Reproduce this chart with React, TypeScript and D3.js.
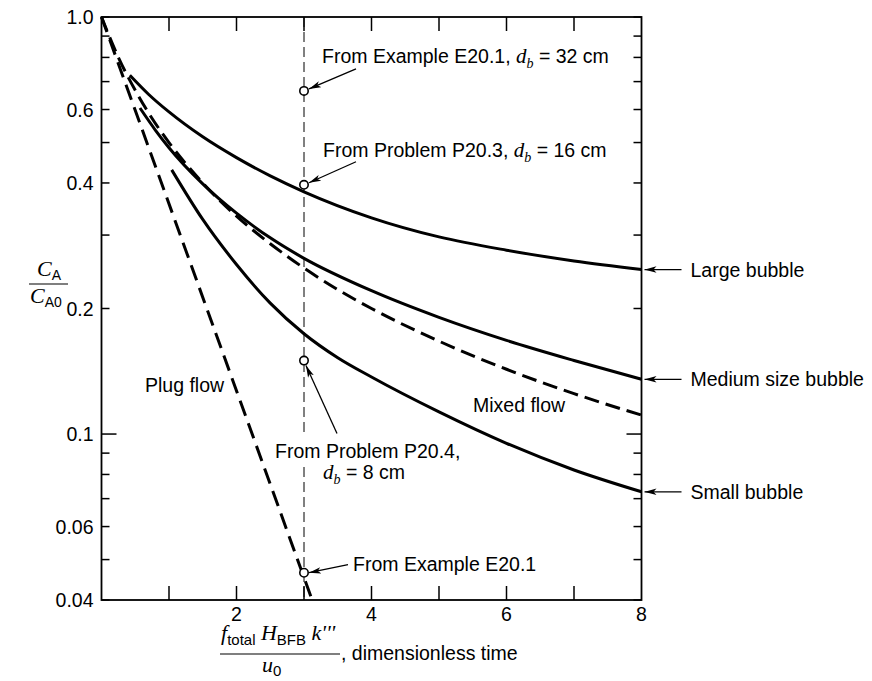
import React from 'react';
import * as d3 from 'd3';

// ---------- data ----------
const xMajorTicks = [1, 2, 3, 4, 5, 6, 7];
const xTickLabels = [2, 4, 6, 8];
const yLabelledTicks = [1.0, 0.6, 0.4, 0.2, 0.1, 0.06, 0.04];
const yMinorTicks = [0.9, 0.8, 0.7, 0.5, 0.3, 0.09, 0.08, 0.07, 0.05];

const plugT = [0, 3.12];
const plugC = [1, 0.04];
const mixedT = [0, 0.25, 0.5, 0.75, 1, 1.5, 2, 2.5, 3, 3.5, 4, 5, 6, 7, 8];
const mixedC = [1, 0.8, 0.667, 0.571, 0.5, 0.4, 0.333, 0.286, 0.25, 0.222, 0.2, 0.167, 0.143, 0.125, 0.111];
const largeT = [0.42, 0.7, 1, 1.5, 2, 2.5, 3, 4, 5, 6, 7, 8];
const largeC = [0.725, 0.652, 0.592, 0.516, 0.46, 0.416, 0.381, 0.33, 0.297, 0.276, 0.26, 0.248];
const mediumT = [0.57, 0.8, 1, 1.5, 2, 2.5, 3, 4, 5, 6, 7, 8];
const mediumC = [0.605, 0.535, 0.486, 0.398, 0.3385, 0.2954, 0.2638, 0.2206, 0.1904, 0.1677, 0.1501, 0.1353];
const smallT = [1.04, 1.5, 2, 2.5, 3, 3.5, 4, 5, 6, 7, 8];
const smallC = [0.43, 0.327, 0.255, 0.206, 0.174, 0.1524, 0.137, 0.113, 0.095, 0.082, 0.0727];

const pointT = 3;
const pointC = [0.665, 0.396, 0.15, 0.0465];

const curveLabels = ['Large bubble', 'Medium size bubble', 'Small bubble'];

// ---------- layout ----------
const W = 872;
const H = 681;
const x = d3.scaleLinear().domain([0, 8]).range([101.5, 641.5]);
const y = d3.scaleLog().domain([0.04, 1]).range([600, 17]);

const SANS = "'Liberation Sans', Arial, sans-serif";
const SERIF = "'Liberation Serif', 'Times New Roman', serif";
const FS = 19.5;

const lineGen = d3
  .line<[number, number]>()
  .x((d) => x(d[0]))
  .y((d) => y(d[1]))
  .curve(d3.curveMonotoneX);

const zip = (a: number[], b: number[]) => a.map((v, i) => [v, b[i]] as [number, number]);

function Arrow({ x1, y1, x2, y2 }: { x1: number; y1: number; x2: number; y2: number }) {
  return <line x1={x1} y1={y1} x2={x2} y2={y2} stroke="#000" strokeWidth={1.3} markerEnd="url(#ah)" />;
}

const it = (s: string, size?: number) => (
  <tspan fontFamily={SERIF} fontStyle="italic" fontSize={size}>{s}</tspan>
);

export default function App() {
  const x0 = x(0), x8 = x(8), yTop = y(1), yBot = y(0.04);
  const px = x(pointT);
  const circ = pointC.map((c) => y(c));
  const ends = [largeC[largeC.length - 1], mediumC[mediumC.length - 1], smallC[smallC.length - 1]];

  return (
    <svg
      width={W}
      height={H}
      style={{ position: 'absolute', left: 0, top: 0, background: '#fff' }}
      fontFamily={SANS}
      fontSize={FS}
    >
      <defs>
        <marker id="ah" viewBox="0 0 12 8" refX="12" refY="4" markerWidth="12" markerHeight="8" markerUnits="userSpaceOnUse" orient="auto">
          <path d="M0,0.8 L12,4 L0,7.2 L3,4 z" fill="#000" />
        </marker>
      </defs>

      {/* vertical reference line at t = 3 */}
      <line x1={px} x2={px} y1={yTop} y2={yBot} stroke="#000" strokeWidth={1} strokeDasharray="10,5" />

      {/* curves */}
      <path d={lineGen(zip(plugT, plugC)) || ''} fill="none" stroke="#000" strokeWidth={3} strokeDasharray="16,8" />
      <path d={lineGen(zip(mixedT, mixedC)) || ''} fill="none" stroke="#000" strokeWidth={3} strokeDasharray="15,7" />
      <path d={lineGen(zip(largeT, largeC)) || ''} fill="none" stroke="#000" strokeWidth={3} />
      <path d={lineGen(zip(mediumT, mediumC)) || ''} fill="none" stroke="#000" strokeWidth={3} />
      <path d={lineGen(zip(smallT, smallC)) || ''} fill="none" stroke="#000" strokeWidth={3} />

      {/* frame */}
      <rect x={x0} y={yTop} width={x8 - x0} height={yBot - yTop} fill="none" stroke="#000" strokeWidth={1.8} />

      {/* x ticks (top & bottom) */}
      {xMajorTicks.map((t) => (
        <g key={'xt' + t}>
          <line x1={x(t)} x2={x(t)} y1={yBot} y2={yBot - 14} stroke="#000" strokeWidth={1.5} />
          <line x1={x(t)} x2={x(t)} y1={yTop} y2={yTop + 14} stroke="#000" strokeWidth={1.5} />
        </g>
      ))}
      {xTickLabels.map((t) => (
        <text key={'xl' + t} x={x(t)} y={yBot + 21} textAnchor="middle">
          {t}
        </text>
      ))}

      {/* y ticks (left & right) */}
      {[...yLabelledTicks, ...yMinorTicks].map((v) => {
        const len = v === 0.1 ? 15 : 8;
        return (
          <g key={'yt' + v}>
            <line x1={x0} x2={x0 + len} y1={y(v)} y2={y(v)} stroke="#000" strokeWidth={1.5} />
            <line x1={x8} x2={x8 - len} y1={y(v)} y2={y(v)} stroke="#000" strokeWidth={1.5} />
          </g>
        );
      })}
      {yLabelledTicks.map((v) => (
        <text key={'yl' + v} x={x0 - 8} y={y(v)} dy="0.36em" textAnchor="end">
          {v === 1 ? '1.0' : String(v)}
        </text>
      ))}

      {/* white gap behind annotation text crossing the reference line */}
      <rect x={px - 4} y={circ[2] + 73} width={10} height={33} fill="#fff" />

      {/* points */}
      {circ.map((cy, i) => (
        <circle key={'pt' + i} cx={px} cy={cy} r={4.2} fill="#fff" stroke="#000" strokeWidth={1.6} />
      ))}

      {/* annotations */}
      <text x={px + 18} y={circ[0] - 28}>
        {'From Example E20.1, '}
        {it('d', 21)}
        <tspan fontFamily={SERIF} fontStyle="italic" fontSize={14} dy={5}>b</tspan>
        <tspan dy={-5}>{' = 32 cm'}</tspan>
      </text>
      <Arrow x1={px + 52} y1={circ[0] - 22} x2={px + 5} y2={circ[0] - 2} />

      <text x={px + 19} y={circ[1] - 28}>
        {'From Problem P20.3, '}
        {it('d', 21)}
        <tspan fontFamily={SERIF} fontStyle="italic" fontSize={14} dy={5}>b</tspan>
        <tspan dy={-5}>{' = 16 cm'}</tspan>
      </text>
      <Arrow x1={px + 52} y1={circ[1] - 23} x2={px + 5} y2={circ[1] - 2} />

      <text x={px - 29} y={circ[2] + 97}>From Problem P20.4,</text>
      <text x={px + 19} y={circ[2] + 118}>
        {it('d', 21)}
        <tspan fontFamily={SERIF} fontStyle="italic" fontSize={14} dy={5}>b</tspan>
        <tspan dy={-5}>{' = 8 cm'}</tspan>
      </text>
      <Arrow x1={px + 33} y1={circ[2] + 73} x2={px + 2} y2={circ[2] + 5} />

      <text x={px + 49} y={circ[3] - 2}>From Example E20.1</text>
      <Arrow x1={px + 44} y1={circ[3] - 8} x2={px + 5} y2={circ[3]} />

      <text x={473} y={412}>Mixed flow</text>
      <text x={145} y={392}>Plug flow</text>

      {/* right labels */}
      {ends.map((v, i) => (
        <g key={'rl' + i}>
          <Arrow x1={x8 + 40} y1={y(v)} x2={x8 + 3} y2={y(v)} />
          <text x={x8 + 49} y={y(v)} dy="0.36em">
            {curveLabels[i]}
          </text>
        </g>
      ))}

      {/* y axis label */}
      <g>
        <text x={37} y={276}>
          {it('C', 22)}
          <tspan fontSize={14} dy={4}>A</tspan>
        </text>
        <line x1={29} x2={68} y1={284} y2={284} stroke="#000" strokeWidth={1.2} />
        <text x={30} y={303}>
          {it('C', 22)}
          <tspan fontSize={14} dy={4}>A0</tspan>
        </text>
      </g>

      {/* x axis label */}
      <g>
        <text x={221} y={640}>
          {it('f', 22)}
          <tspan fontSize={15} dy={5}>total</tspan>
          <tspan dy={-5}>{' '}</tspan>
          {it('H', 22)}
          <tspan fontSize={15} dy={5}>BFB</tspan>
          <tspan dy={-5}>{' '}</tspan>
          {it("k'''", 22)}
        </text>
        <line x1={220} x2={340} y1={654} y2={654} stroke="#000" strokeWidth={1.2} />
        <text x={262} y={672}>
          {it('u', 22)}
          <tspan fontSize={15} dy={4}>0</tspan>
        </text>
        <text x={341} y={660}>, dimensionless time</text>
      </g>
    </svg>
  );
}
